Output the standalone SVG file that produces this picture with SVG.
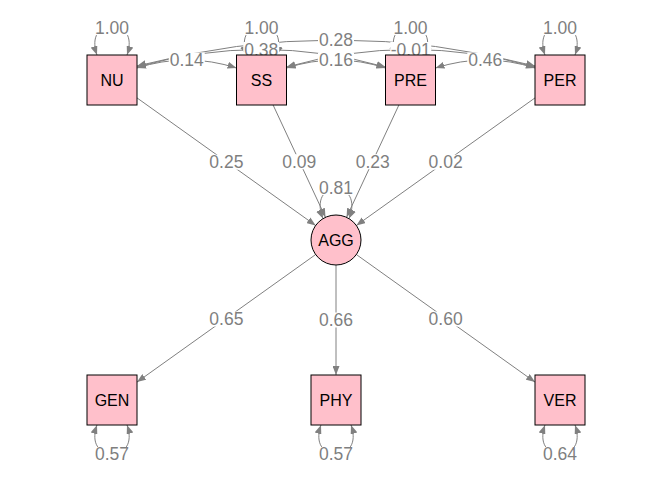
<svg xmlns="http://www.w3.org/2000/svg" width="672" height="480" viewBox="0 0 672 480">
<style>
.e{fill:none;stroke:#808080;stroke-width:1}
.d{marker-start:url(#ah);marker-end:url(#ah)}
.s{marker-end:url(#ah)}
.lb{fill:#ffffff}
.lt{font-family:"Liberation Sans",Arial,sans-serif;font-size:17.5px;fill:#7f7f7f;text-anchor:middle}
.nb{fill:#ffc0cb;stroke:#000000;stroke-width:1}
.nt{font-family:"Liberation Sans",Arial,sans-serif;font-size:16px;fill:#000000;text-anchor:middle}
</style>
<defs>
<marker id="ah" viewBox="0 0 9 7" refX="9" refY="3.5" markerWidth="9" markerHeight="7" markerUnits="userSpaceOnUse" orient="auto-start-reverse">
<path d="M0,0 L9,3.5 L0,7 Z" fill="#808080"/>
</marker>
</defs>
<rect width="672" height="480" fill="#ffffff"/>
<g id="connectors">
<path class="e d" d="M97,55 C92,41 95,27 112,27 C129,27 132,41 127,55"/>
<path class="e d" d="M246.5,55 C241.5,41 244.5,27 261.5,27 C278.5,27 281.5,41 276.5,55"/>
<path class="e d" d="M395.5,55 C390.5,41 393.5,27 410.5,27 C427.5,27 430.5,41 425.5,55"/>
<path class="e d" d="M545,55 C540,41 543,27 560,27 C577,27 580,41 575,55"/>
<path class="e d" d="M323,218.6 C317,205 320,189 336,189 C352,189 355,205 349,218.6"/>
<path class="e d" d="M97,425 C92,439 95,453 112,453 C129,453 132,439 127,425"/>
<path class="e d" d="M321,425 C316,439 319,453 336,453 C353,453 356,439 351,425"/>
<path class="e d" d="M545,425 C540,439 543,453 560,453 C577,453 580,439 575,425"/>
<path class="e d" d="M137,68 Q186.75,52 236.5,68"/>
<path class="e d" d="M137,67 Q261.25,32 385.5,67"/>
<path class="e d" d="M137,66 Q336,14 535,66"/>
<path class="e d" d="M286.5,68 Q336,52 385.5,68"/>
<path class="e d" d="M286.5,67 Q410.75,32 535,67"/>
<path class="e d" d="M435.5,68 Q485.25,52 535,68"/>
<path class="e s" d="M137,97.9 L315.7,225.5"/>
<path class="e s" d="M273.1,105 L325.45,217.3"/>
<path class="e s" d="M398.9,105 L346.55,217.3"/>
<path class="e s" d="M535,97.9 L356.3,225.5"/>
<path class="e s" d="M315.7,254.5 L137,382.1"/>
<path class="e s" d="M336,265 L336,375"/>
<path class="e s" d="M356.3,254.5 L535,382.1"/>
<g id="labels">
<rect class="lb" x="94" y="20" width="36" height="15"/><text class="lt" x="112" y="33.5">1.00</text>
<rect class="lb" x="243.5" y="20" width="36" height="15"/><text class="lt" x="261.5" y="33.5">1.00</text>
<rect class="lb" x="392.5" y="20" width="36" height="15"/><text class="lt" x="410.5" y="33.5">1.00</text>
<rect class="lb" x="542" y="20" width="36" height="15"/><text class="lt" x="560" y="33.5">1.00</text>
<rect class="lb" x="318" y="180" width="36" height="15"/><text class="lt" x="336" y="193.5">0.81</text>
<rect class="lb" x="94" y="447" width="36" height="15"/><text class="lt" x="112" y="460">0.57</text>
<rect class="lb" x="318" y="447" width="36" height="15"/><text class="lt" x="336" y="460">0.57</text>
<rect class="lb" x="542" y="447" width="36" height="15"/><text class="lt" x="560" y="460">0.64</text>
<rect class="lb" x="168.75" y="52.5" width="36" height="15"/><text class="lt" x="186.75" y="66">0.14</text>
<rect class="lb" x="243.25" y="42" width="36" height="15"/><text class="lt" x="261.25" y="55.5">0.38</text>
<rect class="lb" x="318" y="32.5" width="36" height="15"/><text class="lt" x="336" y="46">0.28</text>
<rect class="lb" x="318" y="52.5" width="36" height="15"/><text class="lt" x="336" y="66">0.16</text>
<rect class="lb" x="390.25" y="42" width="41" height="15"/><text class="lt" x="410.75" y="55.5">-0.01</text>
<rect class="lb" x="467.25" y="52.5" width="36" height="15"/><text class="lt" x="485.25" y="66">0.46</text>
<rect class="lb" x="208.4" y="154.7" width="36" height="15"/><text class="lt" x="226.4" y="168">0.25</text>
<rect class="lb" x="281.3" y="154.2" width="36" height="15"/><text class="lt" x="299.3" y="167.5">0.09</text>
<rect class="lb" x="354.7" y="154.2" width="36" height="15"/><text class="lt" x="372.7" y="167.5">0.23</text>
<rect class="lb" x="427.6" y="154.7" width="36" height="15"/><text class="lt" x="445.6" y="168">0.02</text>
<rect class="lb" x="208.4" y="311.5" width="36" height="15"/><text class="lt" x="226.4" y="325">0.65</text>
<rect class="lb" x="318" y="312.5" width="36" height="15"/><text class="lt" x="336" y="326">0.66</text>
<rect class="lb" x="427.6" y="311.5" width="36" height="15"/><text class="lt" x="445.6" y="325">0.60</text>
</g>
</g>
<g id="NU"><rect class="nb" x="87" y="55" width="50" height="50"/><text class="nt" x="112" y="86">NU</text></g>
<g id="SS"><rect class="nb" x="236.5" y="55" width="50" height="50"/><text class="nt" x="261.5" y="86">SS</text></g>
<g id="PRE"><rect class="nb" x="385.5" y="55" width="50" height="50"/><text class="nt" x="410.5" y="86">PRE</text></g>
<g id="PER"><rect class="nb" x="535" y="55" width="50" height="50"/><text class="nt" x="560" y="86">PER</text></g>
<g id="AGG"><circle class="nb" cx="336" cy="240" r="25"/><text class="nt" x="336" y="246">AGG</text></g>
<g id="GEN"><rect class="nb" x="87" y="375" width="50" height="50"/><text class="nt" x="112" y="406">GEN</text></g>
<g id="PHY"><rect class="nb" x="311" y="375" width="50" height="50"/><text class="nt" x="336" y="406">PHY</text></g>
<g id="VER"><rect class="nb" x="535" y="375" width="50" height="50"/><text class="nt" x="560" y="406">VER</text></g>
</svg>
